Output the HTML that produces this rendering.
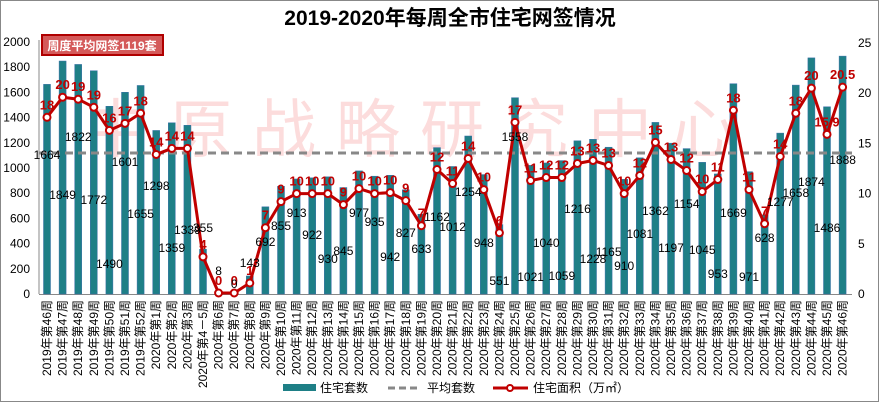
<!DOCTYPE html>
<html><head><meta charset="utf-8"><style>
html,body{margin:0;padding:0;background:#fff}
svg{display:block}
text{font-family:"Liberation Sans","Noto Sans CJK SC",sans-serif}
</style></head><body>
<svg id="c" width="879" height="402" xmlns="http://www.w3.org/2000/svg">
<rect x="0.5" y="0.5" width="878" height="401" fill="#fff" stroke="#888"/>
<text x="450" y="25" font-size="21" font-weight="bold" text-anchor="middle" fill="#000">2019-2020年每周全市住宅网签情况</text>
<text x="420" y="152" font-size="64" fill="#fcdcdc" text-anchor="middle" letter-spacing="20">中原战略研究中心</text>
<g id="g"></g>
<rect x="42" y="35" width="121" height="20" fill="#d45a5a" stroke="#b00000" stroke-width="2"/>
<text x="102" y="50" font-size="12" font-weight="bold" fill="#fff" text-anchor="middle">周度平均网签1119套</text>
<rect x="283" y="384" width="33" height="7" fill="#1e7f86"/>
<text x="320" y="392" font-size="12">住宅套数</text>
<line x1="388" y1="388" x2="420" y2="388" stroke="#888" stroke-width="3" stroke-dasharray="7,4"/>
<text x="427" y="392" font-size="12">平均套数</text>
<line x1="493" y1="388" x2="528" y2="388" stroke="#c00000" stroke-width="3"/>
<circle cx="510" cy="388" r="3" fill="#fff" stroke="#c00000" stroke-width="2"/>
<text x="533" y="392" font-size="12">住宅面积（万㎡）</text>
</svg>
<script>
var bars=[1664,1849,1822,1772,1490,1601,1655,1298,1359,1339,355,8,0,143,692,855,913,922,930,845,977,935,942,827,633,1162,1012,1254,948,551,1558,1021,1040,1059,1216,1228,1165,910,1081,1362,1197,1154,1045,953,1669,971,628,1277,1658,1874,1486,1888];
var by=[154,194,136,199,263,161,213,185,247,229,227,270,283,262,241,225,212,234,258,250,212,221,256,232,248,216,226,191,242,280,136,276,242,275,208,258,251,265,233,210,247,203,249,273,212,276,237,201,192,181,227,159];
var line=[17.6,19.6,19.4,18.6,16.3,17,18,13.9,14.5,14.5,3.7,0.1,0.1,1.1,6.6,9.2,10,10,10,8.9,10.5,10,10.1,9.3,6.8,12.4,11,13.5,10.4,6.1,17.1,11.3,11.6,11.6,13,13.3,12.8,10,11.8,15.1,13.4,12.3,10.2,11.4,18.3,10.4,7,13.7,18,20.5,15.9,20.6];
var ll=["18","20","19","19","16","17","18","14","14","14","4","0","0","1","7","9","10","10","10","9","10","10","10","9","7","12","11","14","10","6","17","11","12","12","13","13","13","10","12","15","13","12","10","11","18","11","7","14","18","20","15.9","20.5"];
var names=["2019年第46周","2019年第47周","2019年第48周","2019年第49周","2019年第50周","2019年第51周","2019年第52周","2020年第1周","2020年第2周","2020年第3周","2020年第4－5周"];
for(var w=6;w<=46;w++)names.push("2020年第"+w+"周");
var s="",X=function(i){return 47+15.6*i},Y0=294;
for(var v=0;v<=2000;v+=200){s+='<text x="30" y="'+(Y0-v*0.126+4)+'" font-size="12" text-anchor="end">'+v+'</text>';}
for(var v=0;v<=25;v+=5){s+='<text x="858" y="'+(Y0-v*10.04+4)+'" font-size="12">'+v+'</text>';}
s+='<line x1="39" y1="40" x2="39" y2="294" stroke="#888"/><line x1="39" y1="294.5" x2="852" y2="294.5" stroke="#888"/>';
for(var i=0;i<52;i++){var h=bars[i]*0.126;s+='<rect x="'+(X(i)-3.5)+'" y="'+(Y0-h)+'" width="7" height="'+h+'" fill="#1e7f86" stroke="#3a6fa8" stroke-width="0.5"/>';
s+='<text transform="translate('+(X(i)+4)+',300) rotate(-90)" font-size="12" text-anchor="end">'+names[i]+'</text>';}
s+='<line x1="39" y1="153" x2="852" y2="153" stroke="#888" stroke-width="3" stroke-dasharray="8,5"/>';
var p=[];for(var i=0;i<52;i++)p.push(X(i)+','+(Y0-line[i]*10.04));
s+='<polyline points="'+p.join(' ')+'" fill="none" stroke="#c00000" stroke-width="3"/>';
for(var i=0;i<52;i++){var y=Y0-line[i]*10.04;s+='<circle cx="'+X(i)+'" cy="'+y+'" r="3.5" fill="#fff" stroke="#c00000" stroke-width="2"/>';
s+='<text x="'+X(i)+'" y="'+(y-8)+'" font-size="13" font-weight="bold" fill="#c00000" text-anchor="middle">'+ll[i]+'</text>';}
for(var i=0;i<52;i++){s+='<text x="'+X(i)+'" y="'+(by[i]+5)+'" font-size="12" text-anchor="middle" fill="#000">'+bars[i]+'</text>';}
document.getElementById('g').innerHTML=s;
</script>
</body></html>
